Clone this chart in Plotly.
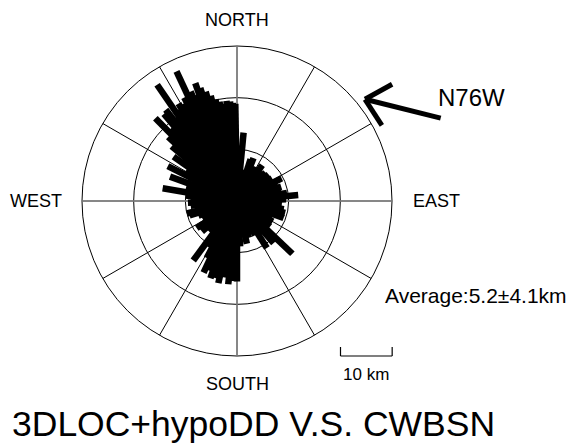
import math
import plotly.graph_objects as go

# Azimuth (deg, clockwise from north) and separation (km) of each epicentre pair
AZIMUTH = [0, 3, 5.5, 10, 14, 18, 21, 25, 30, 35, 40, 45, 50, 57, 63, 68, 72,
           77, 81, 84.5, 88, 92, 95, 100, 104, 110, 116, 120, 124, 128, 133.6, 139,
           143, 147.6, 152, 157, 162, 167, 172, 176, 180, 183, 186, 189, 192.8, 196,
           199, 202, 205, 208, 211, 216.3, 220, 224, 229, 233, 236, 241, 245, 249,
           253, 256, 260, 264, 268, 272, 276, 279.7, 285, 290, 296.8, 301, 305, 310,
           313, 315.4, 318, 320, 322, 324, 325.5, 327, 329, 331, 333, 335, 337, 339,
           340.5, 342, 344, 346, 348, 350, 352, 354, 356, 357.5, 359]
LENGTH = [8.0, 5.0, 13.3, 5.8, 6.2, 8.5, 8.9, 7.0, 7.5, 8.5, 7.5, 7.8, 8.0, 8.1,
          9.7, 8.5, 9.0, 8.8, 9.8, 11.9, 9.5, 8.5, 8.7, 9.2, 9.6, 9.6, 7.5, 8.0, 7.7,
          8.1, 14.8, 10.8, 8.0, 10.8, 7.5, 7.0, 7.5, 8.5, 7.0, 8.8, 15.6, 15.5, 16.2,
          15.0, 16.3, 15.5, 15.8, 14.5, 15.3, 12.5, 10.5, 14.3, 7.0, 8.0, 9.0, 6.5,
          9.4, 7.5, 7.0, 8.0, 9.6, 10.0, 8.0, 9.0, 9.5, 9.0, 10.0, 14.6, 10.2, 13.8,
          15.0, 11.5, 15.0, 16.5, 18.2, 22.5, 19.0, 22.0, 22.4, 20.0, 27.3, 21.0, 22.0,
          21.5, 22.5, 27.7, 23.0, 22.0, 24.2, 23.0, 22.0, 21.0, 20.1, 19.5, 19.0, 19.5,
          19.3, 19.0, 18.8]

RING_KM = [10, 20, 30]
R_MAX = 30
SCALE_KM = 10
TREND_AZ = 284          # N76W
TREND_LABEL = "N76W"
AVERAGE_TEXT = "Average:5.2\u00b14.1km"
TITLE = "3DLOC+hypoDD V.S. CWBSN"

W, H = 574, 445
CX, CY, R_PX = 237, 201, 155
FONT = "Liberation Sans, Arial, sans-serif"


def fx(x):
    return x / W


def fy(y):
    return 1 - y / H


# each pair as a thick stick from the centre
r_vals, t_vals = [], []
for az, km in zip(AZIMUTH, LENGTH):
    r_vals += [0, km, None]
    t_vals += [az, az, None]

# gray N-S / E-W axes
ax_r, ax_t = [], []
for az in (0, 90, 180, 270):
    ax_r += [0, R_MAX, None]
    ax_t += [az, az, None]

fig = go.Figure()
fig.add_trace(go.Scatterpolar(r=ax_r, theta=ax_t, mode="lines",
                              line=dict(color="#8a8a8a", width=1.5),
                              hoverinfo="skip", showlegend=False))
fig.add_trace(go.Scatterpolar(r=r_vals, theta=t_vals, mode="lines",
                              line=dict(color="black", width=6.5),
                              connectgaps=False, showlegend=False))

fig.update_layout(
    width=W, height=H,
    margin=dict(l=0, r=0, t=0, b=0),
    paper_bgcolor="white",
    plot_bgcolor="white",
    showlegend=False,
    polar=dict(
        domain=dict(x=[fx(CX - R_PX), fx(CX + R_PX)],
                    y=[fy(CY + R_PX), fy(CY - R_PX)]),
        bgcolor="white",
        radialaxis=dict(range=[0, R_MAX], tickvals=RING_KM, showticklabels=False,
                        ticks="", showline=False, gridcolor="black", gridwidth=1,
                        layer="below traces"),
        angularaxis=dict(direction="clockwise", rotation=90, tickmode="linear",
                         tick0=0, dtick=30, showticklabels=False, ticks="",
                         gridcolor="black", gridwidth=1, showline=True,
                         linecolor="black", linewidth=1, layer="below traces"),
    ),
)

ann = [
    ("NORTH", CX, 20, 18, "center", "middle"),
    ("SOUTH", CX, 384, 18, "center", "middle"),
    ("WEST", 36, 201, 18, "center", "middle"),
    ("EAST", 436, 201, 18, "center", "middle"),
    (TREND_LABEL, 471, 97, 24, "center", "middle"),
    (AVERAGE_TEXT, 384, 295, 21, "left", "middle"),
    ("%d km" % SCALE_KM, 366, 374, 17, "center", "middle"),
    (TITLE, 11, 445, 35.5, "left", "bottom"),
]
for text, x, y, size, xa, ya in ann:
    fig.add_annotation(text=text, x=fx(x), y=fy(y), xref="paper", yref="paper",
                       xanchor=xa, yanchor=ya, showarrow=False, borderpad=0,
                       font=dict(family=FONT, size=size, color="black"))

# scale bar
km_px = R_PX / R_MAX
bar_l, bar_r, bar_y, tick_h = 340.5, 340.5 + SCALE_KM * km_px, 356, 9
for x0, y0, x1, y1 in [(bar_l, bar_y, bar_r, bar_y),
                       (bar_l, bar_y, bar_l, bar_y - tick_h),
                       (bar_r, bar_y, bar_r, bar_y - tick_h)]:
    fig.add_shape(type="line", xref="paper", yref="paper",
                  x0=fx(x0), y0=fy(y0), x1=fx(x1), y1=fy(y1),
                  line=dict(color="black", width=1.2))

# trend arrow pointing toward N76W
tip_x, tip_y = 365, 99.3
dx, dy = math.sin(math.radians(TREND_AZ)), -math.cos(math.radians(TREND_AZ))
shaft = 78
head = 31
segs = [(tip_x - shaft * dx, tip_y - shaft * dy, tip_x, tip_y)]
back = math.atan2(-dy, -dx)
for off in (-43, 43):
    a = back + math.radians(off)
    segs.append((tip_x, tip_y, tip_x + head * math.cos(a), tip_y + head * math.sin(a)))
for x0, y0, x1, y1 in segs:
    fig.add_shape(type="line", xref="paper", yref="paper",
                  x0=fx(x0), y0=fy(y0), x1=fx(x1), y1=fy(y1),
                  line=dict(color="black", width=5))

fig.write_html("out.html")
